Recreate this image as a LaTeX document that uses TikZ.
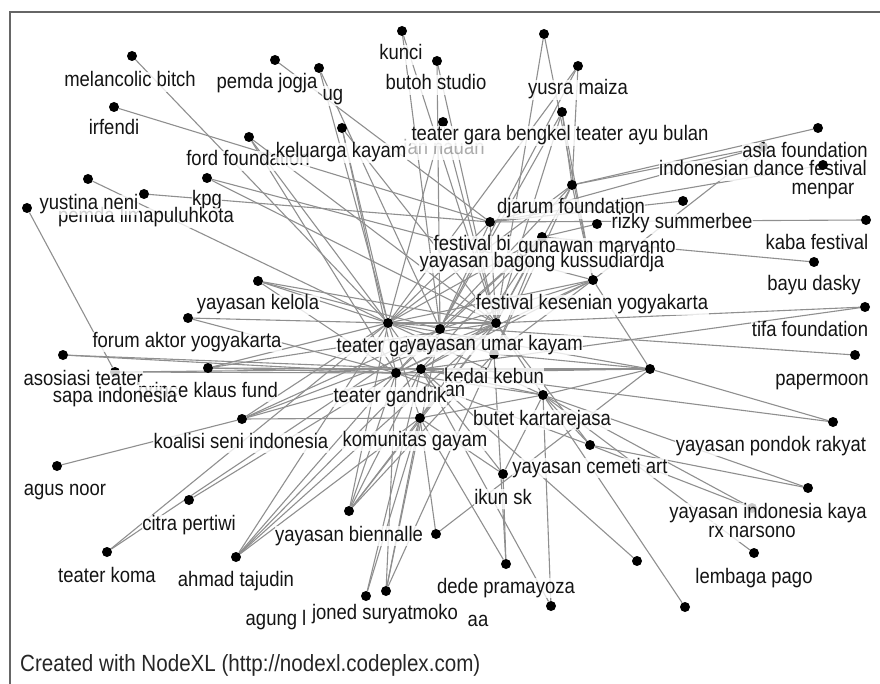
\documentclass[tikz,border=0pt]{standalone}
\usepackage{fontspec}
\setmainfont{Liberation Sans}
\newfontfamily\labff{Liberation Sans}[FakeStretch=0.88]
\usetikzlibrary{backgrounds}
\newcommand\labfont{\labff\fontsize{21}{22}\selectfont}
\tikzset{
  v/.style={circle, fill=black, inner sep=0pt, minimum size=10pt},
  lab/.style={font=\labfont, text=black!92, fill=white, fill opacity=0.8, text opacity=1,
              inner sep=0.5pt, text height=14.5pt, text depth=4.5pt},
  e/.style={draw=black!44, line width=1.1pt},
  frame/.style={draw=black!60, line width=1.5pt}
}
\begin{document}
\begin{tikzpicture}[x=1pt,y=-1pt]
\useasboundingbox (0,0) rectangle (880,684);
\draw[frame] (10,684) -- (10,12) -- (880,12);

% vertices
\node[v] (mb) at (132,56) {};
\node[v] (pj) at (275,60) {};
\node[v] (ug) at (319,68) {};
\node[v] (kunci) at (402,31) {};
\node[v] (butoh) at (437,61) {};
\node[v] (t1) at (544,34) {};
\node[v] (yusra) at (578,66) {};
\node[v] (irf) at (114,107) {};
\node[v] (kk) at (342,128) {};
\node[v] (nauan) at (443,122) {};
\node[v] (bengkel) at (562,112) {};
\node[v] (ford) at (249,137) {};
\node[v] (yus) at (88,179) {};
\node[v] (plk) at (144,194) {};
\node[v] (kpg) at (207,178) {};
\node[v] (t2) at (27,208) {};
\node[v] (djarum) at (572,185) {};
\node[v] (fb) at (490,222) {};
\node[v] (gm) at (597,224) {};
\node[v] (ybk) at (542,237) {};
\node[v] (asia) at (818,128) {};
\node[v] (idf) at (763,147) {};
\node[v] (rizky) at (683,201) {};
\node[v] (kaba) at (866,220) {};
\node[v] (fky) at (593,280) {};
\node[v] (bayu) at (814,262) {};
\node[v] (tifa) at (865,307) {};
\node[v] (paper) at (855,355) {};
\node[v] (h650) at (650,369) {};
\node[v] (kelola) at (258,281) {};
\node[v] (forum) at (188,318) {};
\node[v] (asos) at (63,355) {};
\node[v] (sapa) at (115,372) {};
\node[v] (pkf) at (208,368) {};
\node[v] (koalisi) at (242,419) {};
\node[v] (garasi) at (388,323) {};
\node[v] (h1) at (440,329) {};
\node[v] (umar) at (496,323) {};
\node[v] (gandrik) at (396,373) {};
\node[v] (h2) at (421,369) {};
\node[v] (kedai) at (494,354) {};
\node[v] (butet) at (543,395) {};
\node[v] (gayam) at (420,418) {};
\node[v] (cemeti) at (590,445) {};
\node[v] (pondok) at (833,422) {};
\node[v] (yik) at (808,488) {};
\node[v] (rx) at (752,508) {};
\node[v] (pago) at (754,553) {};
\node[v] (b637) at (637,561) {};
\node[v] (b685) at (685,607) {};
\node[v] (agus) at (57,466) {};
\node[v] (citra) at (189,500) {};
\node[v] (koma) at (107,552) {};
\node[v] (ahmad) at (236,557) {};
\node[v] (bien) at (349,511) {};
\node[v] (b436) at (436,534) {};
\node[v] (joned) at (386,591) {};
\node[v] (agung) at (366,596) {};
\node[v] (ikun) at (503,474) {};
\node[v] (dede) at (506,564) {};
\node[v] (b551) at (551,606) {};
\node[v] (menpar) at (823,165) {};

% edges
\begin{scope}[on background layer]
\foreach \a/\b in {
 mb/garasi, yus/garasi, kk/garasi, ug/garasi, ford/garasi, kelola/garasi, forum/garasi,
 pkf/garasi, koalisi/garasi, koma/garasi, ahmad/garasi, bien/garasi, paper/garasi,
 nauan/garasi, yusra/garasi, fb/garasi,
 kk/umar, kunci/umar, t1/umar, butoh/umar, ford/umar, kelola/umar, pkf/umar, tifa/umar,
 bien/umar, cemeti/umar, ahmad/umar, koalisi/umar, nauan/umar, bengkel/umar, kpg/umar,
 ug/h1, butoh/h1, yusra/h1, kelola/h1, koma/h1, bengkel/h1, koalisi/h1, joned/h1, kunci/h1,
 forum/gandrik, asos/gandrik, citra/gandrik, ahmad/gandrik, bien/gandrik, joned/gandrik,
 kk/gandrik, ford/gandrik, sapa/gandrik, pkf/gandrik, cemeti/gandrik, kelola/gandrik,
 tifa/h2, pondok/h2, b637/h2, b551/h2, sapa/h2, pkf/h2, ikun/h2, bien/h2, ahmad/h2,
 koalisi/h2, h650/h2, asos/h2,
 ybk/kedai, djarum/kedai, h650/kedai, bien/kedai, joned/kedai, dede/kedai,
 dede/gayam, joned/gayam, bien/gayam, ahmad/gayam, ikun/gayam, koalisi/gayam, b436/gayam,
 agung/gayam, agung/h2,
 pago/butet, yik/butet, rx/butet, b685/butet, ikun/butet, h650/butet, cemeti/butet, b551/butet,
 t1/fky, kpg/fky, h650/fky, bengkel/fky, idf/fky, djarum/fky,
 irf/fb, pj/fb, plk/fb, rizky/fb, kaba/fb, idf/fb, menpar/fb,
 asia/djarum, idf/djarum, bengkel/djarum, yusra/djarum,
 bayu/ybk, gm/ybk, cemeti/yik, cemeti/rx, t2/sapa, agus/koalisi,
 pondok/h650, b436/h650, dede/ikun,
 garasi/ybk, garasi/djarum, garasi/fky, umar/ybk, umar/djarum, h1/ybk, h1/fky,
 garasi/umar, garasi/h650, gandrik/h650, gandrik/umar, h2/umar, h2/garasi,
 gayam/garasi, gayam/umar, gayam/butet, butet/umar, butet/garasi, kedai/garasi,
 gandrik/fky, h2/fky, fb/umar, fb/h1, gandrik/ybk, h2/ybk, kedai/fky,
 gandrik/butet, h2/butet, gayam/ybk, gandrik/djarum}
 \draw[e] (\a) -- (\b);
\end{scope}

% labels (later ones drawn over earlier ones)
\node[lab] (mb-l) at (130,82) {melancolic bitch};
\node[lab, anchor=west] (ug-l) at (322,96) {ug};
\node[lab] (pj-l) at (267,84) {pemda jogja};
\node[lab] (kunci-l) at (401,55) {kunci};
\node[lab] (butoh-l) at (436,85) {butoh studio};
\node[lab] (yusra-l) at (578,90) {yusra maiza};
\node[lab] (irf-l) at (114,130) {irfendi};
\node[lab, text opacity=0.35] (nauan-l) at (444,150) {ian nauan};
\node[lab] (bengkel-l) at (560,136) {teater gara bengkel teater ayu bulan};
\node[lab] (ford-l) at (248,161) {ford foundation};
\node[lab] (kk-l) at (341,153) {keluarga kayam};
\node[lab] (kpg-l) at (207,201) {kpg};
\node[lab] (plk-l) at (146,218) {pemda limapuluhkota};
\node[lab] (yus-l) at (89,205) {yustina neni};
\node[lab] (asia-l) at (805,153) {asia foundation};
\node[lab] (idf-l) at (763,171) {indonesian dance festival};
\node[v] (menpar-dot) at (menpar) {};
\node[lab] (menpar-l) at (823,190) {menpar};
\node[lab] (djarum-l) at (571,209) {djarum foundation};
\node[lab] (rizky-l) at (682,224) {rizky summerbee};
\node[lab] (kaba-l) at (817,245) {kaba festival};
\node[lab, anchor=west] (fb-l) at (433,246) {festival bi};
\node[lab] (gm-l) at (597,248) {gunawan maryanto};
\node[lab] (ybk-l) at (542,263) {yayasan bagong kussudiardja};
\node[lab] (bayu-l) at (814,286) {bayu dasky};
\node[lab] (fky-l) at (592,305) {festival kesenian yogyakarta};
\node[lab] (tifa-l) at (810,332) {tifa foundation};
\node[lab] (paper-l) at (822,380) {papermoon};
\node[lab] (kelola-l) at (258,305) {yayasan kelola};
\node[lab] (forum-l) at (187,342) {forum aktor yogyakarta};
\node[lab] (garasi-l) at (388,347) {teater garasi};
\node[lab] (umar-l) at (495,345) {yayasan umar kayam};
\node[lab] (kedai-l) at (494,378) {kedai kebun};
\node[lab, anchor=west] (h2-l) at (444,391) {an};
\node[lab] (gandrik-l) at (390,397) {teater gandrik};
\node[lab, anchor=west] (asos-l) at (23,380) {asosiasi teater};
\node[lab] (pkf-l) at (208,392) {prince klaus fund};
\node[lab] (sapa-l) at (115,397) {sapa indonesia};
\node[lab] (butet-l) at (542,420) {butet kartarejasa};
\node[lab] (koalisi-l) at (241,443) {koalisi seni indonesia};
\node[lab] (gayam-l) at (415,441) {komunitas gayam};
\node[lab] (pondok-l) at (771,446) {yayasan pondok rakyat};
\node[lab] (cemeti-l) at (590,468) {yayasan cemeti art};
\node[lab] (agus-l) at (65,490) {agus noor};
\node[lab] (ikun-l) at (503,499) {ikun sk};
\node[lab] (rx-l) at (752,532) {rx narsono};
\node[lab] (yik-l) at (768,513) {yayasan indonesia kaya};
\node[lab] (citra-l) at (189,525) {citra pertiwi};
\node[lab] (bien-l) at (349,536) {yayasan biennalle};
\node[lab] (koma-l) at (107,577) {teater koma};
\node[lab] (ahmad-l) at (236,581) {ahmad tajudin};
\node[lab] (pago-l) at (754,578) {lembaga pago};
\node[lab] (dede-l) at (506,588) {dede pramayoza};
\node[lab, anchor=west] (agung-l) at (245,620) {agung l};
\node[lab] (aa-l) at (478,621) {aa};
\node[lab] (joned-l) at (385,614) {joned suryatmoko};

\node[font=\labff\fontsize{23.4}{24}\selectfont, text=black!85, anchor=west, inner sep=0pt] (credit) at (20,665)
  {Created with NodeXL (http://nodexl.codeplex.com)};
\end{tikzpicture}
\end{document}
